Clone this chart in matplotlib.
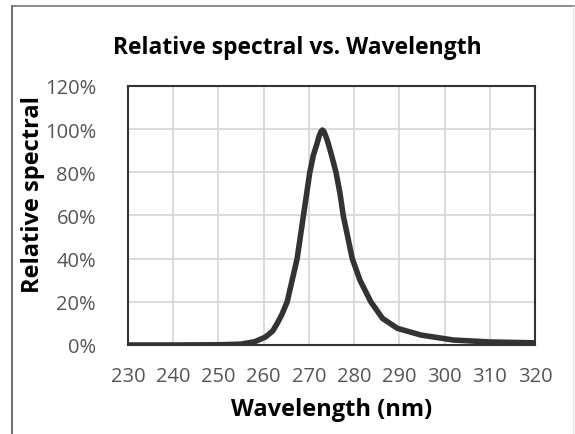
import matplotlib.pyplot as plt
from matplotlib.lines import Line2D
from matplotlib.ticker import FuncFormatter

plt.rcParams['font.family'] = ['Open Sans', 'DejaVu Sans']

# spectrum (nm, % relative)
wavelength = [230, 240, 250, 255, 258, 260.4, 262, 263, 264, 265.2, 266.3, 267.4,
              268.1, 268.8, 269.5, 270.2, 271, 271.9, 272.3, 272.7, 273, 273.3,
              273.7, 274.2, 275, 276, 276.9, 277.6, 278.6, 279.6, 281.3, 283.7,
              286.3, 289.6, 294.8, 302, 310, 320]
relative = [0, 0, 0.1, 0.4, 1.5, 3.7, 6.5, 10, 14, 20, 30, 40,
            50, 60, 70, 80, 88, 94, 97, 99, 99.6, 99,
            97, 94, 88, 80, 70, 60, 50, 40, 30, 20,
            12.3, 7.7, 4.6, 2.3, 1.4, 1]
xticks = list(range(230, 321, 10))
yticks = list(range(0, 121, 20))

fig = plt.figure(figsize=(5.75, 4.35), dpi=100)
ax = fig.add_axes([0.2226, 0.2046, 0.7078, 0.5954])

ax.plot(wavelength, relative, color='#333333', lw=4, solid_capstyle='round',
        solid_joinstyle='round', zorder=3)

ax.set_xlim(230, 320)
ax.set_ylim(0, 120)
ax.set_xticks(xticks)
ax.set_yticks(yticks)
ax.yaxis.set_major_formatter(FuncFormatter(lambda v, p: '%d%%' % v))
ax.grid(True, color='#d6d6d6', lw=1.2)
ax.set_axisbelow(True)
ax.tick_params(length=0, labelsize=14.5, labelcolor='#555555')
ax.tick_params(axis='x', pad=15)
ax.tick_params(axis='y', pad=23)
for s in ax.spines.values():
    s.set_color('#333333')
    s.set_linewidth(1.5)

# title is centred on the whole chart box, not on the plot area
fig.text(297/575, 1 - 48/435, 'Relative spectral vs. Wavelength', fontsize=16.5,
         fontweight='bold', ha='center', va='center')
ax.set_xlabel('Wavelength (nm)', fontsize=17, fontweight='bold')
ax.set_ylabel('Relative spectral', fontsize=17, fontweight='bold')
ax.xaxis.set_label_coords(0.5, -0.2)
ax.yaxis.set_label_coords(-0.204, 0.583)

# outer frame
fig.add_artist(Line2D([12/575, 12/575], [0, 1 - 7/435], color='#555555', lw=1.2))
fig.add_artist(Line2D([12/575, 1], [1 - 7/435, 1 - 7/435], color='#777777', lw=1.2))
fig.add_artist(Line2D([573/575, 573/575], [0, 1 - 7/435], color='#e6e6e6', lw=1))

fig.savefig('out.png', dpi=100)
